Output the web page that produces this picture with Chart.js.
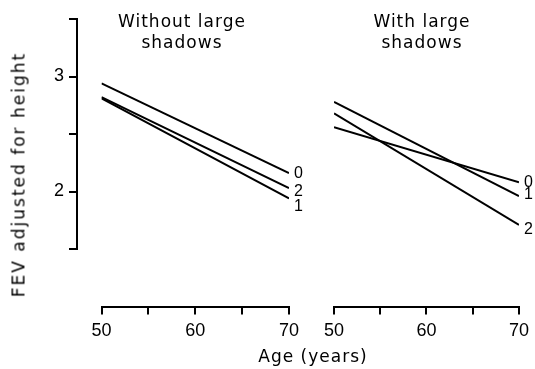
<!DOCTYPE html>
<html>
<head>
<meta charset="utf-8">
<script src="https://cdn.jsdelivr.net/npm/chart.js@4.4.1/dist/chart.umd.min.js"></script>
<style>
  body { margin: 0; background: #fff; }
  #wrap { position: relative; width: 535px; height: 369px; overflow: hidden; }
  canvas { position: absolute; left: 0; top: 0; }
  .txt {
    position: absolute;
    font-family: "DejaVu Sans", sans-serif;
    font-size: 17px;
    line-height: 21px;
    letter-spacing: 1px;
    color: #000;
    text-align: center;
    white-space: nowrap;
  }
</style>
</head>
<body>
<div id="wrap">
  <canvas id="yaxis" width="535" height="369"></canvas>
  <canvas id="left" width="535" height="369"></canvas>
  <canvas id="right" width="535" height="369"></canvas>
  <div class="txt" style="left:82px;top:11px;width:200px;">Without large<br>shadows</div>
  <div class="txt" style="left:322px;top:11px;width:200px;">With large<br>shadows</div>
  <div class="txt" style="left:-131px;top:164px;width:300px;height:21px;transform:rotate(-90deg);letter-spacing:2px;">FEV adjusted for height</div>
  <div class="txt" style="left:213px;top:346px;width:200px;">Age (years)</div>
</div>
<script>
// age at start and end of each fitted line
const ages = [50, 70];
const groups = ["0", "1", "2"];

// FEV adjusted for height, without large shadows
const without0 = [2.94, 2.16];
const without1 = [2.81, 1.94];
const without2 = [2.82, 2.03];

// FEV adjusted for height, with large shadows
const with0 = [2.56, 2.08];
const with1 = [2.78, 1.96];
const with2 = [2.68, 1.71];

const xTicks = [50, 55, 60, 65, 70];
const xTickLabels = ["50", "", "60", "", "70"];
const yTicks = [1.5, 2, 2.5, 3, 3.5];
const yTickLabels = ["", "2", "", "3", ""];

// small vertical shifts so the end labels don't collide
const leftNudge = [0, 8, 3.5];
const rightNudge = [0, -2, 5];

const W = 535, H = 369;
const areaTop = 19;
const pxPerUnit = 115;
const xAxisH = 50;

const endLabels = {
  id: "endLabels",
  afterDatasetsDraw(chart) {
    const ctx = chart.ctx;
    ctx.save();
    ctx.font = '16px "Liberation Sans", sans-serif';
    ctx.fillStyle = "#000";
    ctx.textBaseline = "middle";
    ctx.textAlign = "left";
    chart.data.datasets.forEach((ds, i) => {
      const pts = chart.getDatasetMeta(i).data;
      const p = pts[pts.length - 1];
      ctx.fillText(ds.label, p.x + 5, p.y + ds.nudge);
    });
    ctx.restore();
  },
};

function makeSets(series, nudge) {
  return series.map((vals, i) => ({
    label: groups[i],
    data: vals.map((v, j) => ({ x: ages[j], y: v })),
    showLine: true,
    borderColor: "#000",
    borderWidth: 2,
    pointRadius: 0,
    nudge: nudge[i],
  }));
}

function panel(id, series, nudge, left, right) {
  const yMin = 1.0, yMax = 3.5;
  const areaBottom = areaTop + (yMax - yMin) * pxPerUnit;
  new Chart(document.getElementById(id), {
    type: "scatter",
    data: { datasets: makeSets(series, nudge) },
    options: {
      responsive: false,
      animation: false,
      layout: {
        autoPadding: false,
        padding: { left: left, right: W - right, top: areaTop, bottom: H - areaBottom - xAxisH },
      },
      plugins: { legend: { display: false }, tooltip: { enabled: false } },
      scales: {
        x: {
          type: "linear",
          min: 50,
          max: 70,
          afterFit: (s) => { s.height = xAxisH; },
          afterBuildTicks: (s) => { s.ticks = xTicks.map((v) => ({ value: v })); },
          ticks: {
            callback: (v, i) => xTickLabels[i],
            font: { family: "Liberation Sans", size: 18 },
            color: "#000",
            padding: 6,
            maxRotation: 0,
          },
          grid: { drawOnChartArea: false, tickLength: 8, color: "#000", lineWidth: 2 },
          border: { color: "#000", width: 2 },
        },
        y: { display: false, min: yMin, max: yMax },
      },
    },
    plugins: [endLabels],
  });
}

// stand-alone y axis for the left panel
new Chart(document.getElementById("yaxis"), {
  type: "scatter",
  data: { datasets: [] },
  options: {
    responsive: false,
    animation: false,
    layout: {
      autoPadding: false,
      padding: { left: 0, right: W - 86, top: areaTop, bottom: H - (areaTop + 2 * pxPerUnit) },
    },
    plugins: { legend: { display: false }, tooltip: { enabled: false } },
    scales: {
      x: { display: false, min: 0, max: 1 },
      y: {
        min: 1.5,
        max: 3.5,
        afterFit: (s) => { s.width = 77; },
        afterBuildTicks: (s) => { s.ticks = yTicks.map((v) => ({ value: v })); },
        ticks: {
          callback: (v, i) => yTickLabels[i],
          font: { family: "Liberation Sans", size: 18 },
          color: "#000",
          padding: 5,
        },
        grid: { drawOnChartArea: false, tickLength: 8, color: "#000", lineWidth: 2 },
        border: { color: "#000", width: 2 },
      },
    },
  },
});

panel("left", [without0, without1, without2], leftNudge, 101.5, 289);
panel("right", [with0, with1, with2], rightNudge, 334, 522);
</script>
</body>
</html>
